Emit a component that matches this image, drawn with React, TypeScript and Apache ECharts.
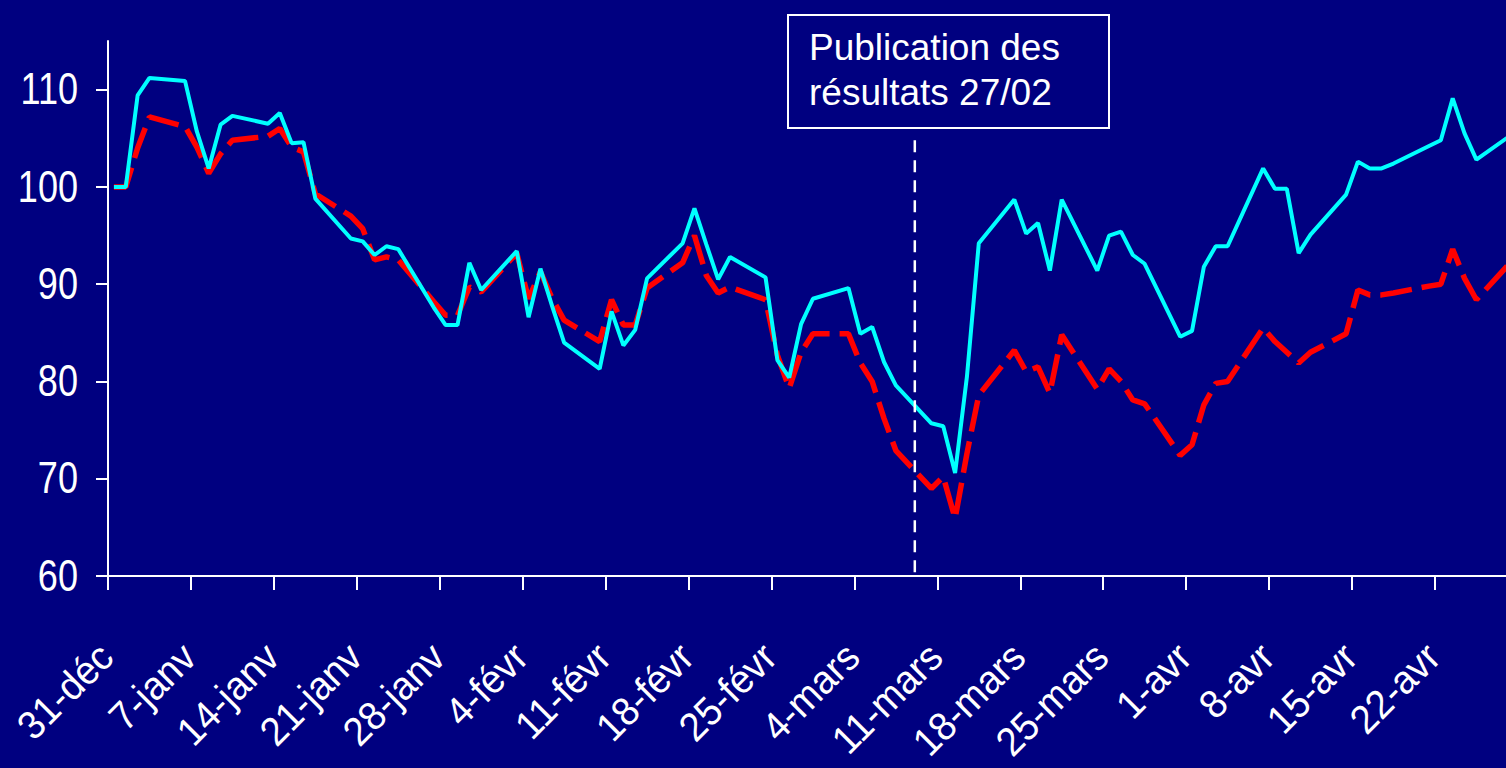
import React, { useEffect, useRef } from "react";
import * as echarts from "echarts";

// Day offsets from 31-déc (trading days only)
const tradingDays = [
  0, 1, 2, 3, 6, 7, 8, 9, 10, 13, 14, 15, 16, 17, 20, 21, 22, 23, 24, 27,
  28, 29, 30, 31, 34, 35, 36, 37, 38, 41, 42, 43, 44, 45, 48, 49, 50, 51, 52, 55,
  56, 57, 58, 59, 62, 63, 64, 65, 66, 69, 70, 71, 72, 73, 76, 77, 78, 79, 80, 83,
  84, 85, 86, 87, 90, 91, 92, 93, 94, 97, 98, 99, 100, 101, 104, 105, 106, 107, 108, 111,
  112, 113, 114, 115, 118,
];

const cyanValues = [
  100.0, 100.0, 109.4, 111.2, 110.9, 105.7, 101.9, 106.4, 107.3, 106.5, 107.6, 104.5, 104.6, 98.8, 94.7, 94.4, 93.0, 93.9, 93.6, 87.6,
  85.8, 85.8, 92.2, 89.4, 93.4, 86.6, 91.6, 87.7, 84.0, 81.3, 87.2, 83.7, 85.3, 90.6, 94.2, 97.8, 94.1, 90.5, 92.8, 90.7,
  82.2, 80.4, 85.9, 88.5, 89.6, 84.9, 85.6, 82.0, 79.6, 75.7, 75.4, 70.6, 80.5, 94.2, 98.7, 95.2, 96.3, 91.4, 98.7, 91.4,
  95.0, 95.4, 93.0, 92.1, 84.6, 85.2, 91.8, 93.9, 93.9, 101.9, 99.8, 99.8, 93.2, 95.1, 99.2, 102.6, 101.9, 101.9, 102.4, 104.2,
  104.8, 109.1, 105.5, 102.8, 105.4,
];

const redValues = [
  100.0, 100.0, 104.0, 107.2, 106.2, 104.1, 101.4, 103.4, 104.8, 105.2, 106.0, 104.1, 103.6, 99.3, 97.0, 95.7, 92.5, 92.8, 92.5, 88.2,
  86.8, 86.8, 89.7, 89.2, 93.2, 88.5, 91.3, 88.5, 86.3, 84.1, 88.4, 85.8, 85.8, 89.6, 92.2, 95.0, 90.9, 89.1, 89.7, 88.4,
  82.7, 79.3, 83.0, 84.9, 84.9, 81.9, 80.0, 76.2, 72.9, 69.0, 70.2, 65.9, 72.6, 78.6, 83.2, 81.0, 81.5, 78.8, 84.8, 79.2,
  81.3, 80.0, 78.1, 77.7, 72.4, 73.5, 77.6, 79.8, 80.0, 85.5, 84.1, 83.0, 81.9, 83.0, 84.9, 89.4, 88.9, 88.9, 89.1, 89.8,
  90.0, 93.6, 90.6, 88.4, 92.4,
];

const xTickLabels = [
  "31-déc", "7-janv", "14-janv", "21-janv", "28-janv", "4-févr", "11-févr", "18-févr", "25-févr",
  "4-mars", "11-mars", "18-mars", "25-mars", "1-avr", "8-avr", "15-avr", "22-avr",
];
const xTickValues = xTickLabels.map((_, i) => i * 7);
const yTickValues = [60, 70, 80, 90, 100, 110];

// Vertical "publication" marker: day position and value span
const publicationDay = 68.1;
const publicationSpan = [104.8, 59.6];
const annotationText = "Publication des\nrésultats 27/02";

const NAVY = "#000080";
const FONT = "'Liberation Sans', Arial, sans-serif";
const NARROW = 0.82; // Arial Narrow look for the value labels

export default function App() {
  const ref = useRef<HTMLDivElement>(null);

  useEffect(() => {
    document.body.style.margin = "0";
    document.body.style.background = NAVY;
    const chart = echarts.init(ref.current!, undefined, { renderer: "svg" });
    const toPairs = (vals: number[]) => tradingDays.map((d, i) => [d + 0.5, vals[i]]);

    chart.setOption({
      animation: false,
      backgroundColor: NAVY,
      grid: {
        left: 108,
        right: 0,
        top: 41,
        bottom: 192,
        containLabel: false,
        outerBoundsMode: "none",
      },
      xAxis: {
        type: "value",
        min: 0,
        max: 118,
        axisLine: { show: true, onZero: false, lineStyle: { color: "#fff", width: 2 } },
        axisTick: {
          show: true,
          customValues: xTickValues,
          length: 14,
          lineStyle: { color: "#fff", width: 2 },
        },
        axisLabel: { show: false },
        splitLine: { show: false },
      },
      yAxis: {
        type: "value",
        min: 60,
        max: 115,
        axisLine: { show: true, onZero: false, lineStyle: { color: "#fff", width: 2 } },
        axisTick: {
          show: true,
          customValues: yTickValues,
          length: 12,
          lineStyle: { color: "#fff", width: 2 },
        },
        axisLabel: { show: false },
        splitLine: { show: false },
      },
      series: [
        {
          name: "publication",
          type: "line",
          data: publicationSpan.map((v) => [publicationDay, v]),
          showSymbol: false,
          symbol: "none",
          clip: false,
          silent: true,
          lineStyle: { color: "#ffffff", width: 2.5, type: [12, 8] },
          z: 4,
        },
        {
          name: "red",
          type: "line",
          data: toPairs(redValues),
          showSymbol: false,
          symbol: "none",
          clip: true,
          lineStyle: { color: "#ff0000", width: 5.5, type: [32, 10] },
          z: 2,
        },
        {
          name: "cyan",
          type: "line",
          data: toPairs(cyanValues),
          showSymbol: false,
          symbol: "none",
          clip: true,
          lineStyle: { color: "#00ffff", width: 4 },
          z: 3,
        },
      ],
    });

    // Tick labels placed through the axes' own scales
    const axisX = chart.convertToPixel({ xAxisIndex: 0 }, 0) as number;
    const axisY = chart.convertToPixel({ yAxisIndex: 0 }, 60) as number;
    const yLabels = yTickValues.map((v) => ({
      type: "text",
      x: axisX - 30,
      y: chart.convertToPixel({ yAxisIndex: 0 }, v) as number,
      scaleX: NARROW,
      style: {
        text: String(v),
        align: "right",
        verticalAlign: "middle",
        fontSize: 44,
        fontFamily: FONT,
        fill: "#fff",
      },
      silent: true,
    }));
    const xLabels = xTickValues.map((v, i) => ({
      type: "text",
      x: (chart.convertToPixel({ xAxisIndex: 0 }, v) as number) - 2,
      y: axisY + 74,
      rotation: Math.PI / 4,
      scaleX: 0.95,
      style: {
        text: xTickLabels[i],
        align: "right",
        verticalAlign: "middle",
        fontSize: 40,
        fontFamily: FONT,
        fill: "#fff",
      },
      silent: true,
    }));

    chart.setOption({
      graphic: [
        {
          type: "group",
          left: 787,
          top: 14,
          children: [
            {
              type: "rect",
              shape: { x: 0, y: 0, width: 321, height: 113 },
              style: { fill: NAVY, stroke: "#fff", lineWidth: 2 },
            },
            {
              type: "text",
              x: 21,
              y: 10,
              style: {
                text: annotationText,
                fill: "#fff",
                fontSize: 37,
                lineHeight: 45,
                fontFamily: FONT,
              },
            },
          ],
        },
        ...yLabels,
        ...xLabels,
      ],
    });
    return () => chart.dispose();
  }, []);

  return <div ref={ref} style={{ width: 1506, height: 768 }} />;
}
